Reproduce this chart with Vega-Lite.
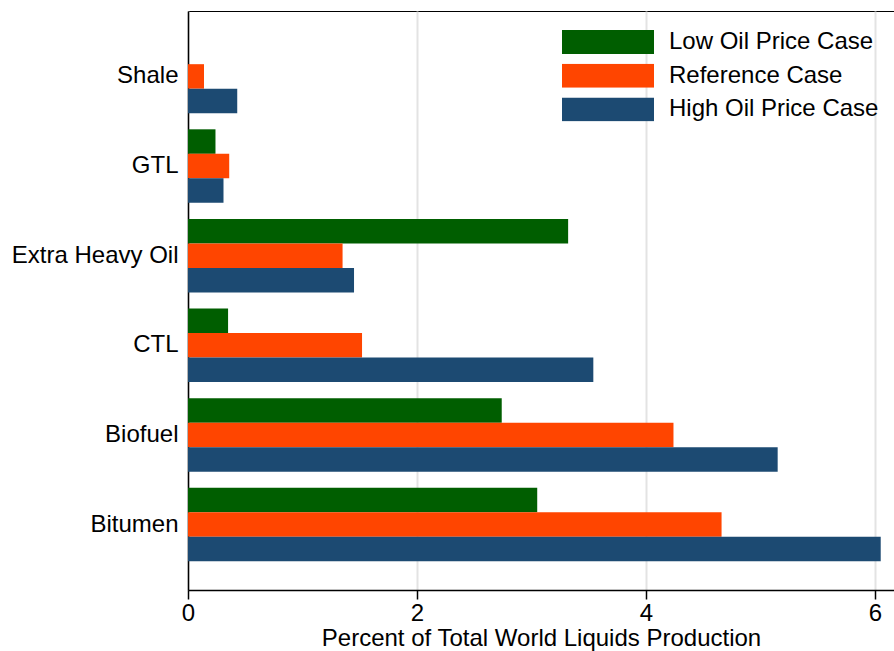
{
  "$schema": "https://vega.github.io/schema/vega-lite/v6.json",
  "width": 706,
  "height": 579,
  "autosize": {"type": "none"},
  "padding": {"left": 188, "top": 11, "right": 0, "bottom": 61},
  "background": "white",
  "config": {
    "font": "Liberation Sans",
    "view": {"stroke": "black", "strokeWidth": 1}
  },
  "data": {
    "values": [
      {"category": "Shale", "case": "Low Oil Price Case", "value": 0},
      {"category": "Shale", "case": "Reference Case", "value": 0.14},
      {"category": "Shale", "case": "High Oil Price Case", "value": 0.43},
      {"category": "GTL", "case": "Low Oil Price Case", "value": 0.24},
      {"category": "GTL", "case": "Reference Case", "value": 0.36},
      {"category": "GTL", "case": "High Oil Price Case", "value": 0.31},
      {"category": "Extra Heavy Oil", "case": "Low Oil Price Case", "value": 3.32},
      {"category": "Extra Heavy Oil", "case": "Reference Case", "value": 1.35},
      {"category": "Extra Heavy Oil", "case": "High Oil Price Case", "value": 1.45},
      {"category": "CTL", "case": "Low Oil Price Case", "value": 0.35},
      {"category": "CTL", "case": "Reference Case", "value": 1.52},
      {"category": "CTL", "case": "High Oil Price Case", "value": 3.54},
      {"category": "Biofuel", "case": "Low Oil Price Case", "value": 2.74},
      {"category": "Biofuel", "case": "Reference Case", "value": 4.24},
      {"category": "Biofuel", "case": "High Oil Price Case", "value": 5.15},
      {"category": "Bitumen", "case": "Low Oil Price Case", "value": 3.05},
      {"category": "Bitumen", "case": "Reference Case", "value": 4.66},
      {"category": "Bitumen", "case": "High Oil Price Case", "value": 6.05}
    ]
  },
  "mark": {"type": "bar"},
  "encoding": {
    "y": {
      "field": "category",
      "type": "nominal",
      "sort": ["Shale", "GTL", "Extra Heavy Oil", "CTL", "Biofuel", "Bitumen"],
      "scale": {"paddingInner": 0.18, "paddingOuter": 0.32},
      "axis": {
        "title": null,
        "ticks": false,
        "labelFontSize": 24,
        "labelColor": "black",
        "labelPadding": 10,
        "domainColor": "black",
        "domainWidth": 1.5,
        "grid": false
      }
    },
    "yOffset": {
      "field": "case",
      "type": "nominal",
      "sort": ["Low Oil Price Case", "Reference Case", "High Oil Price Case"],
      "scale": {"paddingInner": 0, "paddingOuter": 0}
    },
    "x": {
      "field": "value",
      "type": "quantitative",
      "scale": {"domain": [0, 6.166], "nice": false, "zero": true},
      "axis": {
        "values": [0, 2, 4, 6],
        "title": "Percent of Total World Liquids Production",
        "titleFontSize": 24,
        "titleFontWeight": "normal",
        "titleColor": "black",
        "titleBaseline": "alphabetic",
        "titleY": 55,
        "labelFontSize": 24,
        "labelColor": "black",
        "labelPadding": 2,
        "tickSize": 9,
        "tickColor": "black",
        "tickWidth": 1.5,
        "domainColor": "black",
        "domainWidth": 1.5,
        "grid": true,
        "gridColor": "#e3e3e3",
        "gridWidth": 2,
        "labelFlush": false
      }
    },
    "color": {
      "field": "case",
      "type": "nominal",
      "sort": ["Low Oil Price Case", "Reference Case", "High Oil Price Case"],
      "scale": {
        "domain": ["Low Oil Price Case", "Reference Case", "High Oil Price Case"],
        "range": ["#005e00", "#ff4500", "#1c4a72"]
      },
      "legend": {
        "title": null,
        "orient": "none",
        "legendX": 374,
        "legendY": 19,
        "symbolType": "M-1,-0.26H1V0.26H-1Z",
        "symbolSize": 8464,
        "symbolStrokeWidth": 0,
        "symbolOpacity": 1,
        "labelFontSize": 24,
        "labelColor": "black",
        "labelOffset": 15,
        "labelLimit": 400,
        "clipHeight": 24,
        "rowPadding": 9.7,
        "padding": 0
      }
    }
  }
}
